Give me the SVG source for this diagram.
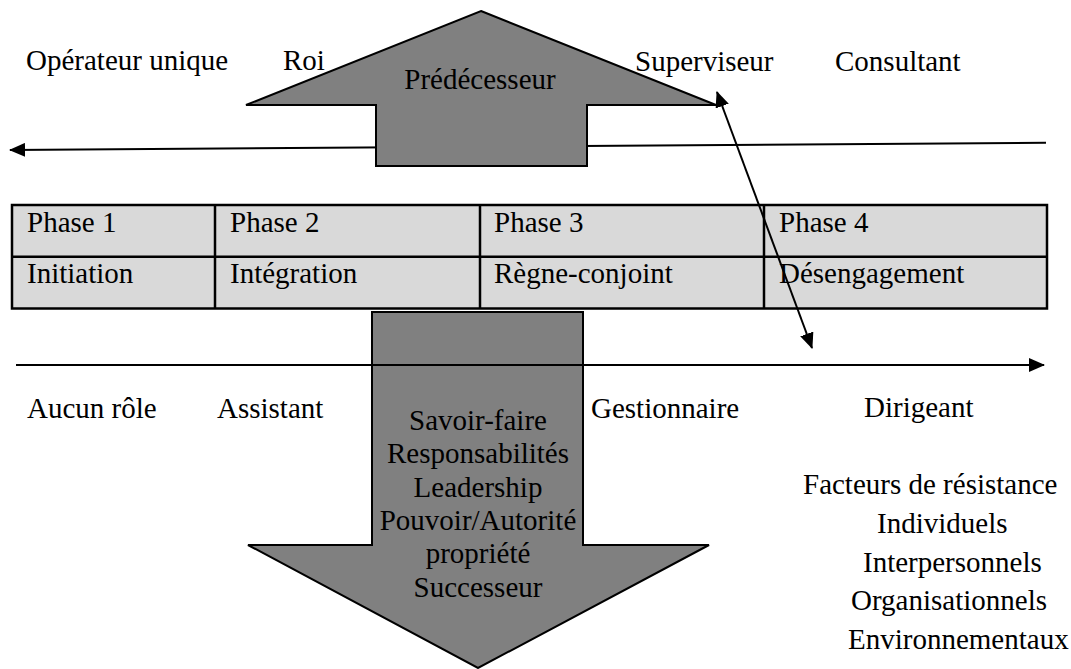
<svg xmlns="http://www.w3.org/2000/svg" width="1071" height="669" viewBox="0 0 1071 669">
  <style>
    text { font-family: "Liberation Serif", "Times New Roman", serif; font-size: 29px; fill: #000; }
    .mid { text-anchor: middle; }
    .block { fill: #808080; stroke: #000; stroke-width: 2; stroke-linejoin: miter; }
    .cell { fill: #d9d9d9; stroke: #000; stroke-width: 2.5; }
    .rule { stroke: #000; stroke-width: 2.5; fill: none; }
    .conn { stroke: #000; stroke-width: 2; fill: none; }
  </style>
  <defs>
    <marker id="head" viewBox="0 0 16 14" refX="15" refY="7" markerWidth="16" markerHeight="14" markerUnits="userSpaceOnUse" orient="auto-start-reverse">
      <path d="M0,0 L16,7 L0,14 z" fill="#000"/>
    </marker>
  </defs>

  <rect width="1071" height="669" fill="#fff"/>

  <!-- timeline of the predecessor's roles (runs right to left) -->
  <g id="connectors-back">
    <line class="conn" x1="1046" y1="142.7" x2="10" y2="150" marker-end="url(#head)"/>
  </g>

  <!-- predecessor: upward block arrow -->
  <g id="predecesseur">
    <polygon class="block" points="481,11 716,105 587,105 587,166 376,166 376,105 246,105"/>
    <text class="mid" x="480" y="89">Prédécesseur</text>
  </g>

  <!-- roles of the predecessor -->
  <g id="roles-predecesseur">
    <text x="26" y="70">Opérateur unique</text>
    <text x="283" y="70">Roi</text>
    <text x="635" y="71">Superviseur</text>
    <text x="835" y="71">Consultant</text>
  </g>

  <!-- phases table -->
  <g id="phases">
    <rect class="cell" x="12" y="205" width="1035" height="103.5"/>
    <line class="rule" x1="12" y1="256.7" x2="1047" y2="256.7"/>
    <line class="rule" x1="215" y1="205" x2="215" y2="308.5"/>
    <line class="rule" x1="480" y1="205" x2="480" y2="308.5"/>
    <line class="rule" x1="764" y1="205" x2="764" y2="308.5"/>
    <text x="27" y="231.5">Phase 1</text>
    <text x="230" y="231.5">Phase 2</text>
    <text x="494" y="231.5">Phase 3</text>
    <text x="779" y="231.5">Phase 4</text>
    <text x="27" y="283">Initiation</text>
    <text x="230" y="283">Intégration</text>
    <text x="494" y="283">Règne-conjoint</text>
    <text x="779" y="283">Désengagement</text>
  </g>

  <!-- successor: downward block arrow -->
  <g id="successeur">
    <polygon class="block" points="372,312 583,312 583,545 709,545 478,668 248,545 372,545"/>
    <text class="mid" x="478" y="430">Savoir-faire</text>
    <text class="mid" x="478" y="463.3">Responsabilités</text>
    <text class="mid" x="478" y="496.6">Leadership</text>
    <text class="mid" x="478" y="530">Pouvoir/Autorité</text>
    <text class="mid" x="478" y="563.3">propriété</text>
    <text class="mid" x="478" y="596.7">Successeur</text>
  </g>

  <!-- timeline of the successor's roles and the transfer link -->
  <g id="connectors">
    <line class="conn" x1="16" y1="365" x2="1044" y2="365" marker-end="url(#head)"/>
    <line class="conn" x1="717" y1="92" x2="812" y2="348" marker-start="url(#head)" marker-end="url(#head)"/>
  </g>

  <!-- roles of the successor -->
  <g id="roles-successeur">
    <text x="27" y="418">Aucun rôle</text>
    <text x="217" y="418">Assistant</text>
    <text x="591" y="418">Gestionnaire</text>
    <text x="864" y="417">Dirigeant</text>
  </g>

  <!-- resistance factors -->
  <g id="facteurs-resistance">
    <text x="803" y="494">Facteurs de résistance</text>
    <text x="877" y="533">Individuels</text>
    <text x="863" y="572">Interpersonnels</text>
    <text x="851" y="610">Organisationnels</text>
    <text x="848" y="649">Environnementaux</text>
  </g>
</svg>
